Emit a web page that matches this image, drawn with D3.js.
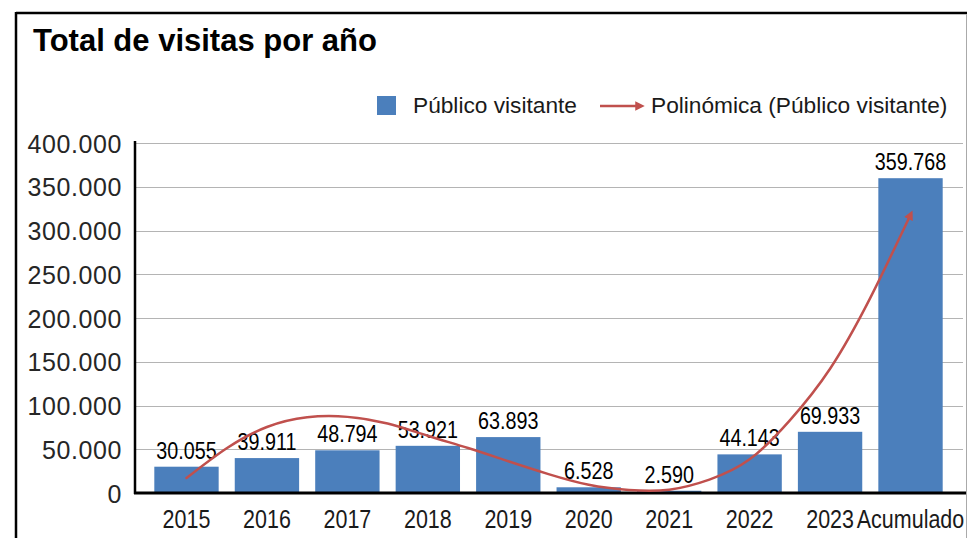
<!DOCTYPE html>
<html>
<head>
<meta charset="utf-8">
<script src="https://cdn.jsdelivr.net/npm/d3@7"></script>
<style>
  html, body { margin: 0; padding: 0; background: #fff; }
  svg { display: block; }
</style>
</head>
<body>
<svg id="chart" width="968" height="538"></svg>
<script>
// ---- data ----
const categories = ["2015", "2016", "2017", "2018", "2019", "2020", "2021", "2022", "2023", "Acumulado"];
const visitors = [30055, 39911, 48794, 53921, 63893, 6528, 2590, 44143, 69933, 359768];
const yTicks = [0, 50000, 100000, 150000, 200000, 250000, 300000, 350000, 400000];
// polynomial trendline at every half category (index 0 = 2015 … 9 = Acumulado)
const trendIndex = [0, 0.5, 1, 1.5, 2, 2.5, 3, 3.5, 4, 4.5, 5, 5.5, 6, 6.5, 7, 7.5, 8, 8.5, 9];
const trendValues = [17100, 51200, 75400, 86500, 87000, 79400, 65400, 51400, 36300, 21600,
                     9400, 3500, 3800, 15300, 38500, 83000, 142000, 223000, 318000];
const title = "Total de visitas por año";
const seriesName = "Público visitante";
const trendName = "Polinómica (Público visitante)";

// ---- layout ----
const W = 968, H = 538;
const plot = { left: 135, right: 962, top: 143, bottom: 493 };
const svg = d3.select("#chart");
const barColor = "#4b7fbc";
const trendColor = "#c0504d";
const fmt = v => d3.format(",")(v).replace(/,/g, ".");
const FONT = "'Liberation Sans', Arial, sans-serif";

// outer frame
svg.append("line").attr("x1", 16).attr("x2", 967).attr("y1", 13).attr("y2", 13)
  .attr("stroke", "#000").attr("stroke-width", 2.5);
svg.append("line").attr("x1", 16).attr("x2", 16).attr("y1", 12).attr("y2", H)
  .attr("stroke", "#000").attr("stroke-width", 2.5);
svg.append("line").attr("x1", 966.5).attr("x2", 966.5).attr("y1", 14).attr("y2", H)
  .attr("stroke", "#aaa").attr("stroke-width", 1);

// title
svg.append("text").attr("x", 33).attr("y", 51)
  .attr("font-family", FONT)
  .attr("font-size", 31).attr("font-weight", "bold").attr("fill", "#000")
  .text(title);

// scales
const x = d3.scaleBand().domain(categories).range([plot.left, plot.right])
  .paddingInner(0.2).paddingOuter(0.24);
const y = d3.scaleLinear().domain([0, 400000]).range([plot.bottom, plot.top]);
const center = c => x(c) + x.bandwidth() / 2;
const xi = d3.scaleLinear().domain([0, categories.length - 1])
  .range([center(categories[0]), center(categories[categories.length - 1])]);

// gridlines
svg.append("g").selectAll("line").data(yTicks.filter(t => t > 0)).join("line")
  .attr("x1", plot.left).attr("x2", 963)
  .attr("y1", d => Math.round(y(d)) + 0.5).attr("y2", d => Math.round(y(d)) + 0.5)
  .attr("stroke", "#b4b4b4").attr("stroke-width", 1.2);

// y axis
const yAxis = svg.append("g").attr("transform", `translate(${plot.left},0)`)
  .call(d3.axisLeft(y).tickValues(yTicks).tickSize(0).tickPadding(13).tickFormat(fmt));
yAxis.select(".domain").remove();
yAxis.selectAll("text")
  .attr("font-family", FONT).attr("letter-spacing", 0.6)
  .attr("font-size", 25).attr("fill", "#262626").attr("dy", "0.36em");

// bars
svg.append("g").selectAll("rect").data(visitors).join("rect")
  .attr("x", (d, i) => x(categories[i]))
  .attr("width", x.bandwidth())
  .attr("y", d => y(d))
  .attr("height", d => y(0) - y(d))
  .attr("fill", barColor);

// axis lines
svg.append("line").attr("x1", plot.left).attr("x2", plot.left).attr("y1", plot.top - 2).attr("y2", plot.bottom + 1)
  .attr("stroke", "#000").attr("stroke-width", 2.5);
svg.append("line").attr("x1", plot.left - 1).attr("x2", 966).attr("y1", plot.bottom).attr("y2", plot.bottom)
  .attr("stroke", "#000").attr("stroke-width", 3);

// x axis labels (condensed)
const xAxis = svg.append("g").attr("transform", `translate(0,${plot.bottom})`)
  .call(d3.axisBottom(x).tickSize(0).tickPadding(0));
xAxis.select(".domain").remove();
xAxis.selectAll(".tick text")
  .attr("font-family", FONT).attr("font-size", 25).attr("fill", "#1a1a1a")
  .attr("y", 0).attr("dy", 0)
  .attr("transform", "translate(0,35) scale(0.86,1)");

// data labels (condensed)
svg.append("g").selectAll("text").data(visitors).join("text")
  .attr("transform", (d, i) => `translate(${center(categories[i])},${y(d) - 8}) scale(0.84,1)`)
  .attr("text-anchor", "middle")
  .attr("font-family", FONT)
  .attr("font-size", 23.5).attr("fill", "#000")
  .text(d => fmt(d));

// trendline with arrow head
const defs = svg.append("defs");
defs.append("marker").attr("id", "arrow").attr("viewBox", "0 0 10 10")
  .attr("refX", 5).attr("refY", 5).attr("markerWidth", 4).attr("markerHeight", 3.8)
  .attr("orient", "auto").attr("markerUnits", "strokeWidth")
  .append("path").attr("d", "M0,0 L10,5 L0,10 z").attr("fill", trendColor);
svg.append("path")
  .attr("d", d3.line()
    .x((d, i) => xi(trendIndex[i]))
    .y(d => y(d))
    .curve(d3.curveNatural)(trendValues))
  .attr("fill", "none").attr("stroke", trendColor).attr("stroke-width", 2.5)
  .attr("stroke-linecap", "round")
  .attr("marker-end", "url(#arrow)");

// legend
const lg = svg.append("g");
lg.append("rect").attr("x", 377).attr("y", 96).attr("width", 19).attr("height", 19).attr("fill", barColor);
lg.append("text").attr("x", 413).attr("y", 113)
  .attr("font-family", FONT).attr("font-size", 22.7).attr("fill", "#1a1a1a")
  .text(seriesName);
lg.append("line").attr("x1", 600).attr("x2", 640).attr("y1", 106).attr("y2", 106)
  .attr("stroke", trendColor).attr("stroke-width", 2.5).attr("marker-end", "url(#arrow)");
lg.append("text").attr("x", 651).attr("y", 113)
  .attr("font-family", FONT).attr("font-size", 22.7).attr("fill", "#1a1a1a")
  .text(trendName);
</script>
</body>
</html>
